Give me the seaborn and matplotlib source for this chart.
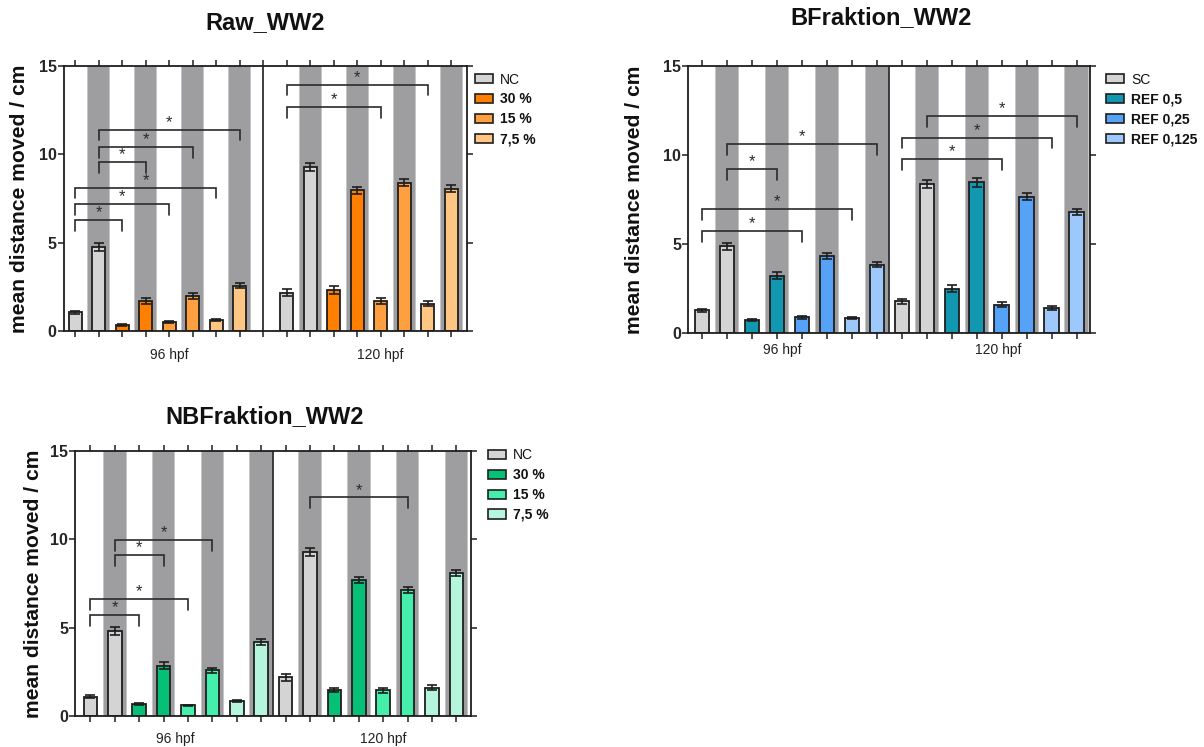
import numpy as np
import pandas as pd
import matplotlib
matplotlib.use("Agg")
import matplotlib.pyplot as plt
import matplotlib.transforms as mtransforms
from matplotlib.patches import Patch
import seaborn as sns

# ---------------- data ----------------
# order inside each time point: group1 light, group1 dark, group2 light, ...
time_points = ["96 hpf", "120 hpf"]

raw_groups = ["NC", "30 %", "15 %", "7,5 %"]
raw_colors = ["#d4d4d4", "#ff8000", "#ffa040", "#ffc583"]
raw_mean_96 = [1.06, 4.77, 0.34, 1.70, 0.51, 1.98, 0.62, 2.56]
raw_sem_96 = [0.10, 0.22, 0.05, 0.17, 0.06, 0.15, 0.07, 0.15]
raw_mean_120 = [2.17, 9.29, 2.30, 7.97, 1.70, 8.40, 1.55, 8.06]
raw_sem_120 = [0.20, 0.22, 0.22, 0.20, 0.15, 0.18, 0.13, 0.18]
raw_brackets = [(0, 2, 6.27), (0, 4, 7.18), (0, 6, 8.12), (1, 3, 9.57),
                (1, 5, 10.42), (1, 7, 11.40), (8, 12, 12.68), (8, 14, 13.94)]

b_groups = ["SC", "REF 0,5", "REF 0,25", "REF 0,125"]
b_colors = ["#d4d4d4", "#1197b0", "#55a2f7", "#9cc8fc"]
b_mean_96 = [1.27, 4.86, 0.71, 3.23, 0.88, 4.33, 0.84, 3.83]
b_sem_96 = [0.10, 0.20, 0.06, 0.17, 0.07, 0.16, 0.07, 0.15]
b_mean_120 = [1.77, 8.37, 2.48, 8.46, 1.59, 7.66, 1.40, 6.78]
b_sem_120 = [0.15, 0.20, 0.20, 0.25, 0.15, 0.20, 0.13, 0.17]
b_brackets = [(0, 4, 5.73), (0, 6, 6.97), (1, 3, 9.21), (1, 7, 10.61),
              (8, 12, 9.77), (8, 14, 10.97), (9, 15, 12.18)]

nb_groups = ["NC", "30 %", "15 %", "7,5 %"]
nb_colors = ["#d4d4d4", "#06c077", "#45eeaa", "#b5f5dc"]
nb_mean_96 = [1.09, 4.81, 0.66, 2.85, 0.60, 2.58, 0.85, 4.21]
nb_sem_96 = [0.08, 0.20, 0.06, 0.18, 0.05, 0.15, 0.08, 0.17]
nb_mean_120 = [2.19, 9.30, 1.47, 7.70, 1.47, 7.13, 1.60, 8.11]
nb_sem_120 = [0.20, 0.22, 0.13, 0.18, 0.14, 0.18, 0.13, 0.18]
nb_brackets = [(0, 2, 5.72), (0, 4, 6.62), (1, 3, 9.11), (1, 5, 9.96),
               (9, 13, 12.38)]

# ---------------- style ----------------
sns.set_theme(style="white")
plt.rcParams["font.family"] = ["Liberation Sans", "DejaVu Sans"]
EDGE = "#1e1e1e"
STRIPE = "#9e9ea1"
STRIPE_EDGE = "#c6c6c8"


def draw_panel(ax, groups, colors, mean_96, sem_96, mean_120, sem_120,
               brackets, gap, xlim, bar_w, label_x, label_dy, ylabel_x):
    n = len(mean_96)
    pos96 = np.arange(n)
    pos120 = np.arange(n) + n + gap
    positions = np.concatenate([pos96, pos120])
    group_of = [groups[i // 2] for i in range(n)] * 2
    phase_of = ["light", "dark"] * n
    df = pd.DataFrame({
        "pos": positions,
        "mean": list(mean_96) + list(mean_120),
        "sem": list(sem_96) + list(sem_120),
        "group": group_of,
        "phase": phase_of,
    })

    # dark-phase background stripes
    for p in df.loc[df.phase == "dark", "pos"]:
        ax.axvspan(p - 0.485, p + 0.485, color=STRIPE_EDGE, lw=0, zorder=0)
        ax.axvspan(p - 0.445, p + 0.445, color=STRIPE, lw=0, zorder=0.5)

    sns.barplot(data=df, x="pos", y="mean", hue="group", hue_order=groups,
                palette=dict(zip(groups, colors)), native_scale=True,
                dodge=False, width=bar_w, edgecolor=EDGE, linewidth=1.3,
                errorbar=None, legend=False, ax=ax, zorder=2, saturation=1)
    ax.errorbar(df["pos"], df["mean"], yerr=df["sem"], fmt="none",
                ecolor=EDGE, elinewidth=1.2, capsize=3.5, capthick=1.2,
                zorder=3)

    divider = (pos96[-1] + pos120[0]) / 2
    ax.axvline(divider, color=EDGE, lw=1.2, zorder=2.5)

    # significance brackets
    leg = 0.6
    for i, j, y in brackets:
        x1, x2 = positions[i], positions[j]
        ax.plot([x1, x1, x2, x2], [y - leg, y, y, y - leg], color="#2a2a2a",
                lw=1.2, zorder=4, solid_joinstyle="miter")
        ax.text((x1 + x2) / 2, y - 0.02, "*", ha="center", va="bottom",
                fontsize=12, color="#2a2a2a", zorder=4)

    ax.set_xlim(*xlim)
    ax.set_ylim(0, 15)
    ax.set_xticks(np.arange(pos120[-1] + 1))
    ax.set_xticklabels([])
    ax.set_yticks([0, 5, 10, 15])
    ax.set_yticklabels(["0", "5", "10", "15"], fontweight="bold",
                       fontsize=11.5)
    ax.tick_params(axis="x", bottom=True, top=True, direction="out",
                   length=4, width=1.1, color=EDGE)
    ax.tick_params(axis="y", left=True, right=True, labelright=False,
                   direction="out", length=4, width=1.1, color=EDGE, pad=1)
    for s in ax.spines.values():
        s.set_visible(True)
        s.set_color(EDGE)
        s.set_linewidth(1.3)
    ax.set_xlabel("")
    ax.set_ylabel("mean distance moved / cm", fontsize=15.2,
                  fontweight="bold", color="#111111")
    ax.yaxis.set_label_coords(ylabel_x, 0.5)

    trans = mtransforms.blended_transform_factory(ax.transData, ax.transAxes)
    for lx, tp in zip(label_x, time_points):
        ax.text(lx, label_dy, tp, transform=trans, ha="center", va="center",
                fontsize=10, color="#222222")
    ax.grid(False)


def add_legend(ax, groups, colors, anchor):
    handles = [Patch(facecolor=c, edgecolor=EDGE, linewidth=1.2, label=g)
               for g, c in zip(groups, colors)]
    lg = ax.legend(handles=handles, loc="upper left", bbox_to_anchor=anchor,
                   frameon=False, fontsize=10, handlelength=1.3,
                   handleheight=0.65, handletextpad=0.5, labelspacing=0.42,
                   borderpad=0, borderaxespad=0)
    for k, t in enumerate(lg.get_texts()):
        t.set_fontweight("normal" if k == 0 else "bold")
        t.set_color("#111111")


fig = plt.figure(figsize=(12.04, 7.47), dpi=100)
W, H = 1204, 747


def axes_px(left, right, top, bottom):
    return fig.add_axes([left / W, 1 - bottom / H, (right - left) / W,
                         (bottom - top) / H])


ax_raw = axes_px(63.5, 466.5, 66, 331)
draw_panel(ax_raw, raw_groups, raw_colors, raw_mean_96, raw_sem_96,
           raw_mean_120, raw_sem_120, raw_brackets, gap=1,
           xlim=(-0.5, 16.65), bar_w=0.55, label_x=(4.0, 13.0),
           label_dy=-0.09, ylabel_x=-0.085)
add_legend(ax_raw, raw_groups, raw_colors, (1.021, 0.975))

ax_b = axes_px(688, 1090, 66, 333)
draw_panel(ax_b, b_groups, b_colors, b_mean_96, b_sem_96,
           b_mean_120, b_sem_120, b_brackets, gap=0,
           xlim=(-0.57, 15.54), bar_w=0.58, label_x=(3.2, 11.85),
           label_dy=-0.065, ylabel_x=-0.11)
add_legend(ax_b, b_groups, b_colors, (1.04, 0.975))

ax_nb = axes_px(75, 471, 451, 716)
draw_panel(ax_nb, nb_groups, nb_colors, nb_mean_96, nb_sem_96,
           nb_mean_120, nb_sem_120, nb_brackets, gap=0,
           xlim=(-0.63, 15.6), bar_w=0.56, label_x=(3.5, 12.0),
           label_dy=-0.087, ylabel_x=-0.08)
add_legend(ax_nb, nb_groups, nb_colors, (1.043, 1.01))

fig.text(265 / W, 1 - 23 / H, "Raw_WW2", ha="center", va="center",
         fontsize=17, fontweight="bold", color="#111111")
fig.text(881 / W, 1 - 18 / H, "BFraktion_WW2", ha="center", va="center",
         fontsize=17, fontweight="bold", color="#111111")
fig.text(265 / W, 1 - 417 / H, "NBFraktion_WW2", ha="center", va="center",
         fontsize=17, fontweight="bold", color="#111111")

fig.savefig("out.png", dpi=100, facecolor="white")
